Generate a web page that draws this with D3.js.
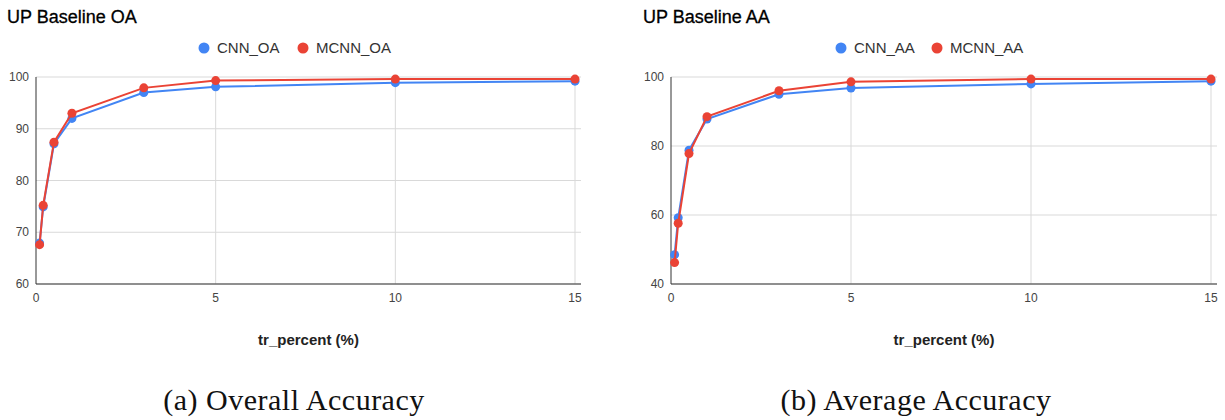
<!DOCTYPE html>
<html>
<head>
<meta charset="utf-8">
<script src="https://cdn.jsdelivr.net/npm/d3@7"></script>
<style>
  body { margin: 0; background: #fff; }
  svg text { font-family: "Liberation Sans", Arial, sans-serif; }
</style>
</head>
<body>
<svg id="chart"></svg>
<script>
// page size
const width = 1225;
const height = 420;

// training percentages (x values)
const trPercent = [0.1, 0.2, 0.5, 1, 3, 5, 10, 15];

// overall accuracy
const cnnOA = [67.9, 74.9, 87.1, 92.0, 97.0, 98.1, 98.9, 99.2];
const mcnnOA = [67.6, 75.2, 87.4, 93.0, 97.9, 99.3, 99.6, 99.6];

// average accuracy
const cnnAA = [48.5, 59.2, 78.8, 87.8, 95.0, 96.8, 98.0, 98.8];
const mcnnAA = [46.2, 57.6, 77.8, 88.5, 96.0, 98.6, 99.4, 99.4];

const xTicks = [0, 5, 10, 15];
const yTicksOA = [60, 70, 80, 90, 100];
const yTicksAA = [40, 60, 80, 100];

const blue = '#4285f4';
const red = '#ea4335';

const svg = d3.select('svg#chart').attr('width', width).attr('height', height);

//draws one of the two panels
function drawPanel(opt) {
    const g = svg.append('g');

    const x = d3.scaleLinear().domain([0, 15]).range([opt.x0, opt.x15]);
    const y = d3.scaleLinear().domain(opt.yDomain).range([284, 77]);

    // horizontal gridlines
    g.selectAll('line.hgrid')
        .data(opt.yTicks)
        .enter().append('line')
        .attr('class', 'hgrid')
        .attr('x1', x(0)).attr('x2', opt.plotRight)
        .attr('y1', d => y(d)).attr('y2', d => y(d))
        .attr('stroke', '#d9d9d9').attr('stroke-width', 1);

    // vertical gridlines
    g.selectAll('line.vgrid')
        .data(xTicks.slice(1))
        .enter().append('line')
        .attr('class', 'vgrid')
        .attr('x1', d => x(d)).attr('x2', d => x(d))
        .attr('y1', y(opt.yDomain[1])).attr('y2', y(opt.yDomain[0]))
        .attr('stroke', '#d9d9d9').attr('stroke-width', 1);

    // axis lines
    g.append('line')
        .attr('x1', x(0)).attr('x2', x(0))
        .attr('y1', y(opt.yDomain[1])).attr('y2', y(opt.yDomain[0]))
        .attr('stroke', '#333').attr('stroke-width', 1);
    g.append('line')
        .attr('x1', x(0)).attr('x2', opt.plotRight)
        .attr('y1', y(opt.yDomain[0])).attr('y2', y(opt.yDomain[0]))
        .attr('stroke', '#333').attr('stroke-width', 1);

    // tick labels
    g.selectAll('text.ytick')
        .data(opt.yTicks)
        .enter().append('text')
        .attr('class', 'ytick')
        .attr('x', x(0) - 7)
        .attr('y', d => y(d))
        .attr('dy', '0.35em')
        .attr('text-anchor', 'end')
        .attr('font-size', 12)
        .attr('fill', '#444')
        .text(d => d);

    g.selectAll('text.xtick')
        .data(xTicks)
        .enter().append('text')
        .attr('class', 'xtick')
        .attr('x', d => x(d))
        .attr('y', 302)
        .attr('text-anchor', 'middle')
        .attr('font-size', 12)
        .attr('fill', '#444')
        .text(d => d);

    // title
    g.append('text')
        .attr('x', opt.titleX)
        .attr('y', 23)
        .attr('font-size', 18)
        .attr('fill', '#000')
        .style('stroke', '#000').style('stroke-width', 0.3)
        .text(opt.title);

    // axis title
    g.append('text')
        .attr('x', (x(0) + opt.plotRight) / 2)
        .attr('y', 345)
        .attr('text-anchor', 'middle')
        .attr('font-size', 15)
        .attr('font-weight', 'bold')
        .attr('fill', '#222')
        .text('tr_percent (%)');

    // caption below
    g.append('text')
        .attr('x', opt.captionX)
        .attr('y', 410)
        .attr('text-anchor', 'middle')
        .attr('font-size', 30)
        .attr('letter-spacing', 0.5)
        .attr('fill', '#111')
        .style('font-family', '"Liberation Serif", "DejaVu Serif", serif')
        .text(opt.caption);

    // legend
    const legend = g.append('g').attr('transform', `translate(${opt.legendX},48)`);
    opt.series.forEach((s, i) => {
        const item = legend.append('g').attr('transform', `translate(${i === 0 ? 0 : opt.legendGap},0)`);
        item.append('circle').attr('r', 5.5).attr('fill', s.color);
        item.append('text')
            .attr('x', 13).attr('dy', '0.35em')
            .attr('font-size', 15).attr('fill', '#333')
            .text(s.name);
    });

    // lines and points
    const line = d3.line().x(d => x(d[0])).y(d => y(d[1]));
    opt.series.forEach(s => {
        const pts = trPercent.map((t, i) => [t, s.values[i]]);
        g.append('path')
            .datum(pts)
            .attr('d', line)
            .attr('fill', 'none')
            .attr('stroke', s.color)
            .attr('stroke-width', 2);
        g.selectAll(null)
            .data(pts)
            .enter().append('circle')
            .attr('cx', d => x(d[0]))
            .attr('cy', d => y(d[1]))
            .attr('r', 4.5)
            .attr('fill', s.color);
    });
}

drawPanel({
    x0: 36, x15: 575, plotRight: 581,
    yDomain: [60, 100], yTicks: yTicksOA,
    title: 'UP Baseline OA', titleX: 7,
    caption: '(a) Overall Accuracy', captionX: 294,
    legendX: 204, legendGap: 99,
    series: [{ name: 'CNN_OA', values: cnnOA, color: blue },
             { name: 'MCNN_OA', values: mcnnOA, color: red }]
});

drawPanel({
    x0: 671, x15: 1211, plotRight: 1217,
    yDomain: [40, 100], yTicks: yTicksAA,
    title: 'UP Baseline AA', titleX: 643,
    caption: '(b) Average Accuracy', captionX: 916,
    legendX: 841, legendGap: 96,
    series: [{ name: 'CNN_AA', values: cnnAA, color: blue },
             { name: 'MCNN_AA', values: mcnnAA, color: red }]
});
</script>
</body>
</html>
